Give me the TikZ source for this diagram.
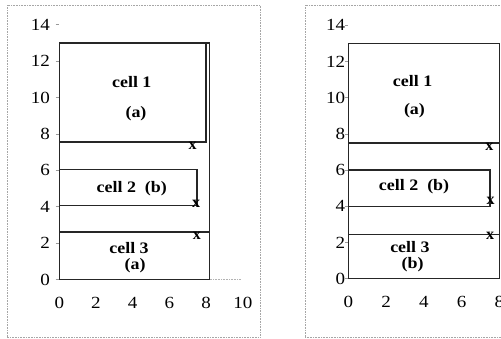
\documentclass[tikz,border=0pt]{standalone}
\usepackage{fontspec}
\usepackage{graphicx}
\setmainfont{Liberation Serif}
\tikzset{
  box/.style={line width=1.4pt, black!85},
  frame/.style={gray!70, densely dotted, line width=0.6pt},
  lbl/.style={font=\fontsize{16}{16}\selectfont\bfseries, inner sep=0pt},
  num/.style={font=\fontsize{17}{16}\selectfont, inner sep=0pt},
  xmark/.style={font=\fontsize{16}{16}\selectfont\bfseries, inner sep=0pt},
  tick/.style={gray!80, line width=0.5pt}
}
\newcommand{\wide}[1]{\scalebox{1.12}[1]{#1}}
\begin{document}
\begin{tikzpicture}[x=1pt,y=1pt]
\useasboundingbox (0,0) rectangle (501,338);
% panel frames
\draw[frame] (7,1) rectangle (260,333);
\draw[frame] (305,1) -- (305,333) -- (510,333);
\draw[frame] (305,1) -- (510,1);

% ---------- left panel ----------
\begin{scope}[shift={(59.3,58.5)}, x=18.35pt, y=18.2pt]
  \foreach \v in {0,2,...,14} {
    \node[num, anchor=east] (ly\v) at (-0.5,\v) {\wide{\v}};
    \draw[tick] (-0.2,\v) -- (0,\v);
  }
  \foreach \v in {0,2,...,10} {
    \node[num] (lx\v) at (\v,-1.3) {\wide{\v}};
  }
  \draw[gray!60, densely dotted, line width=0.6pt] (8.2,0) -- (9.9,0);
  % outer
  \draw[box] (0,0) rectangle (8.2,13);
  % cell 1
  \draw[box] (0,7.55) -- (8.0,7.55) -- (8.0,13);
  % cell 2
  \draw[box] (0,6.05) -- (7.5,6.05) -- (7.5,4.05) -- (0,4.05);
  % cell 3
  \draw[box] (0,2.62) -- (8.2,2.62);
  \node[lbl] (lc1) at (3.95,10.85) {\wide{cell 1}};
  \node[lbl] (la1) at (4.18,9.13) {\wide{(a)}};
  \node[lbl] (lc2) at (3.95,5.01) {\wide{cell 2\ \ (b)}};
  \node[lbl] (lc3) at (3.8,1.75) {\wide{cell 3}};
  \node[lbl] (la3) at (4.13,0.74) {\wide{(a)}};
  \node[xmark] (lx1) at (7.27,7.35) {x};
  \node[xmark] (lx2) at (7.45,4.15) {x};
  \node[xmark] (lx3) at (7.5,2.4) {x};
\end{scope}

% ---------- right panel ----------
\begin{scope}[shift={(348.3,59.3)}, x=18.9pt, y=18.1pt]
  \foreach \v in {0,2,...,14} {
    \node[num, anchor=east] (ry\v) at (-0.15,\v) {\wide{\v}};
    \draw[tick] (-0.15,\v) -- (0,\v);
  }
  \foreach \v in {0,2,...,8} {
    \node[num] (rx\v) at (\v,-1.3) {\wide{\v}};
  }
  \draw[box] (0,0) rectangle (8.0,13);
  \draw[box] (0,7.5) -- (8.0,7.5);
  \draw[box] (0,6.0) -- (7.5,6.0) -- (7.5,4.0) -- (0,4.0);
  \draw[box] (0,2.45) -- (8.0,2.45);
  \node[lbl] (rc1) at (3.4,10.9) {\wide{cell 1}};
  \node[lbl] (ra1) at (3.5,9.27) {\wide{(a)}};
  \node[lbl] (rc2) at (3.48,5.07) {\wide{cell 2\ \ (b)}};
  \node[lbl] (rc3) at (3.26,1.74) {\wide{cell 3}};
  \node[lbl] (rb3) at (3.4,0.78) {\wide{(b)}};
  \node[xmark] (rx1) at (7.47,7.3) {x};
  \node[xmark] (rx2) at (7.53,4.3) {x};
  \node[xmark] (rx3) at (7.5,2.35) {x};
\end{scope}
\end{tikzpicture}
\end{document}
